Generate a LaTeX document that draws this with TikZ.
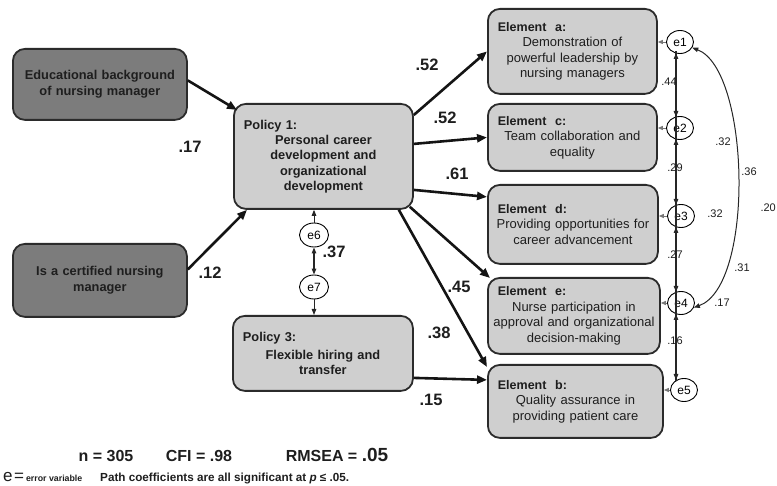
\documentclass[tikz,border=0pt]{standalone}
\usepackage{fontspec}
\setmainfont{Liberation Sans}
\usetikzlibrary{arrows.meta,shapes.geometric}
\definecolor{darkbox}{HTML}{7C7C7C}
\definecolor{lightbox}{HTML}{CFCFCF}
\definecolor{edgecol}{HTML}{2B2B2B}
\definecolor{txt}{HTML}{1E1E1E}
\definecolor{errarrow}{HTML}{777777}
\tikzset{
  box/.style={draw=edgecol, line width=1.8pt, rounded corners=12pt, inner ysep=3pt, text=txt, anchor=north west, align=center},
  darkb/.style={box, fill=darkbox, inner xsep=8pt, font=\fontsize{12.8}{15.5}\selectfont\bfseries},
  polb/.style={box, fill=lightbox, inner xsep=8pt, font=\fontsize{12.8}{15.3}\selectfont\bfseries},
  elemb/.style={box, fill=lightbox, inner xsep=3pt, font=\fontsize{13}{15.5}\selectfont},
  errc/.style={ellipse, draw=black, line width=0.9pt, fill=white, minimum width=27pt, minimum height=23pt, inner sep=0pt, font=\fontsize{12}{14}\selectfont},
  patharrow/.style={line width=2.6pt, draw=black!92, -{Triangle[length=10pt,width=8pt]}},
  thinarrow/.style={line width=1pt, draw=black!85, -{Triangle[length=6pt,width=4.5pt]}},
  dblarrow/.style={line width=1.2pt, draw=black!85, {Triangle[length=6pt,width=4.5pt]}-{Triangle[length=6pt,width=4.5pt]}},
  errarr/.style={line width=0.9pt, draw=errarrow, -{Triangle[length=5pt,width=4pt]}},
  coef/.style={font=\fontsize{16.5}{18}\selectfont\bfseries, text=txt, inner sep=0pt},
  smalllab/.style={font=\fontsize{11}{12}\selectfont, text=txt, inner sep=0pt},
}
\newcommand{\elhead}[1]{\makebox[\linewidth][l]{\hspace{7pt}\fontsize{12.5}{15.5}\selectfont\bfseries #1}}
\newcommand{\polhead}[1]{\makebox[\linewidth][l]{\hspace{2pt}#1}}
\begin{document}
\begin{tikzpicture}[x=1pt,y=-1pt]
\useasboundingbox (0,0) rectangle (777,486);

% left boxes
\node[darkb, minimum width=174pt, minimum height=71pt, text width=158pt] (edu) at (12,48) {Educational background\\ of nursing manager};
\node[darkb, minimum width=174pt, minimum height=73pt, text width=158pt] (cert) at (12,243) {Is a certified nursing\\ manager};

% policy boxes
\node[polb, minimum width=179pt, minimum height=105pt, text width=163pt] (p1) at (233,103) {\polhead{Policy 1:}\\ Personal career\\ development and\\ organizational\\ development};
\node[polb, minimum width=180pt, minimum height=75pt, text width=164pt] (p3) at (232,315) {\polhead{Policy 3:}\\[2.5pt] Flexible hiring and\\ transfer};

% element boxes
\node[elemb, minimum width=169pt, minimum height=85pt, text width=163pt] (a) at (487,8) {\elhead{Element~~a:}\\ Demonstration of\\ powerful leadership by\\ nursing managers};
\node[elemb, minimum width=169pt, minimum height=67pt, text width=163pt] (c) at (487,103) {\elhead{Element~~c:}\\ Team collaboration and\\ equality};
\node[elemb, minimum width=170pt, minimum height=79pt, text width=164pt] (d) at (487,184) {\elhead{Element~~d:}\\ Providing opportunities for\\ career advancement};
\node[elemb, minimum width=172pt, minimum height=76pt, text width=166pt] (e) at (487,277) {\elhead{Element~~e:}\\ Nurse participation in\\ \mbox{approval and organizational}\\ decision-making};
\node[elemb, minimum width=175pt, minimum height=73pt, text width=169pt] (b) at (487,364) {\elhead{Element~~b:}\\ Quality assurance in\\ providing patient care};

% error circles
\node[errc] (e1) at (680,42) {e1};
\node[errc] (e2) at (680,128) {e2};
\node[errc] (e3) at (681,216) {e3};
\node[errc] (e4) at (681,303) {e4};
\node[errc] (e5) at (684,390) {e5};
\node[errc, minimum width=29pt, minimum height=24pt] (e6) at (314,235) {e6};
\node[errc, minimum width=29pt, minimum height=24pt] (e7) at (314,287) {e7};
\coordinate (vx) at (676,0);

% path arrows
\draw[patharrow] ([yshift=4pt]edu.east) -- ([shift={(4pt,-7pt)}]p1.north west);
\draw[patharrow] ([yshift=11pt]cert.east) -- ([xshift=14pt]p1.south west);
\draw[patharrow] ([yshift=-12pt]p1.north east) -- (a.west);
\draw[patharrow] ([yshift=12.5pt]p1.east) -- (c.west);
\draw[patharrow] ([yshift=-33.5pt]p1.east) -- ([yshift=27.5pt]d.west);
\draw[patharrow] ([shift={(-4pt,3pt)}]p1.south east) -- ([shift={(3pt,-1pt)}]e.north west);
\draw[patharrow] ([xshift=-15pt]p1.south east) -- ([yshift=-3pt]b.north west);
\draw[patharrow] ([yshift=-24.5pt]p3.east) -- ([yshift=21.5pt]b.west);

% e6 / e7
\draw[thinarrow] (e6.north) -- (e6.north |- p1.south);
\draw[thinarrow] (e7.south) -- (e7.south |- p3.north);
\draw[dblarrow] (e6.south) -- (e7.north);

% error to element arrows
\draw[errarr] (e1.west) -- (e1.west -| a.east);
\draw[errarr] (e2.west) -- (e2.west -| c.east);
\draw[errarr] (e3.west) -- (e3.west -| d.east);
\draw[errarr] (e4.west) -- (e4.west -| e.east);
\draw[errarr] (e5.west) -- (e5.west -| b.east);

% vertical covariances
\draw[line width=1.2pt, draw=black!85] ([yshift=-9pt]e1.center -| vx) -- ([yshift=9pt]e5.center -| vx);
\draw[dblarrow] ([yshift=-11pt]e1.center -| vx) -- ([yshift=11pt]e2.center -| vx);
\draw[dblarrow] ([yshift=-11pt]e2.center -| vx) -- ([yshift=11pt]e3.center -| vx);
\draw[dblarrow] ([yshift=-11pt]e3.center -| vx) -- ([yshift=11pt]e4.center -| vx);
\draw[dblarrow] ([yshift=-11pt]e4.center -| vx) -- ([yshift=10pt]e5.center -| vx);

% curved covariance e1 <-> e4
\draw[dblarrow, line width=1pt] (e1.-25) .. controls (750,70) and (755,285) .. (e4.-20);

% bold coefficients
\node[coef] (k17) at (190,147) {.17};
\node[coef] (k12) at (210,273) {.12};
\node[coef] (k37) at (334,252) {.37};
\node[coef] (k52a) at (427,65) {.52};
\node[coef] (k52b) at (445,118) {.52};
\node[coef] (k61) at (457,174) {.61};
\node[coef] (k45) at (459,287) {.45};
\node[coef] (k38) at (439,333) {.38};
\node[coef] (k15) at (431,400) {.15};

% small coefficients
\node[smalllab] (s44) at (669,82) {.44};
\node[smalllab] (s29) at (675,168) {.29};
\node[smalllab] (s27) at (675,255) {.27};
\node[smalllab] (s16) at (675,341) {.16};
\node[smalllab] (s32a) at (723,142) {.32};
\node[smalllab] (s36) at (749,172) {.36};
\node[smalllab, anchor=east] (s20) at (776,208) {.20};
\node[smalllab] (s32b) at (715,214) {.32};
\node[smalllab] (s31) at (742,268) {.31};
\node[smalllab] (s17) at (722,303) {.17};

% footer
\node[anchor=base, inner sep=0pt, text=txt, font=\fontsize{16}{18}\selectfont\bfseries] (fn) at (106,461.5) {n = 305};
\node[anchor=base, inner sep=0pt, text=txt, font=\fontsize{16}{18}\selectfont\bfseries] (fcfi) at (199,461.5) {CFI = .98};
\node[anchor=base, inner sep=0pt, text=txt, font=\fontsize{16}{18}\selectfont\bfseries] (frm) at (337,461.5) {RMSEA = {\fontsize{19}{20}\selectfont .05}};
\node[anchor=base west, inner sep=0pt, text=txt] (fe) at (3,482) {{\fontsize{17}{18}\selectfont e\kern1.5pt=}\kern2pt{\fontsize{8.8}{10}\selectfont\bfseries error variable}};
\node[anchor=base west, inner sep=0pt, text=txt, font=\fontsize{11.7}{13}\selectfont\bfseries] (fpath) at (100,482) {Path coefficients are all significant at \textit{p} ≤ .05.};
\end{tikzpicture}
\end{document}
